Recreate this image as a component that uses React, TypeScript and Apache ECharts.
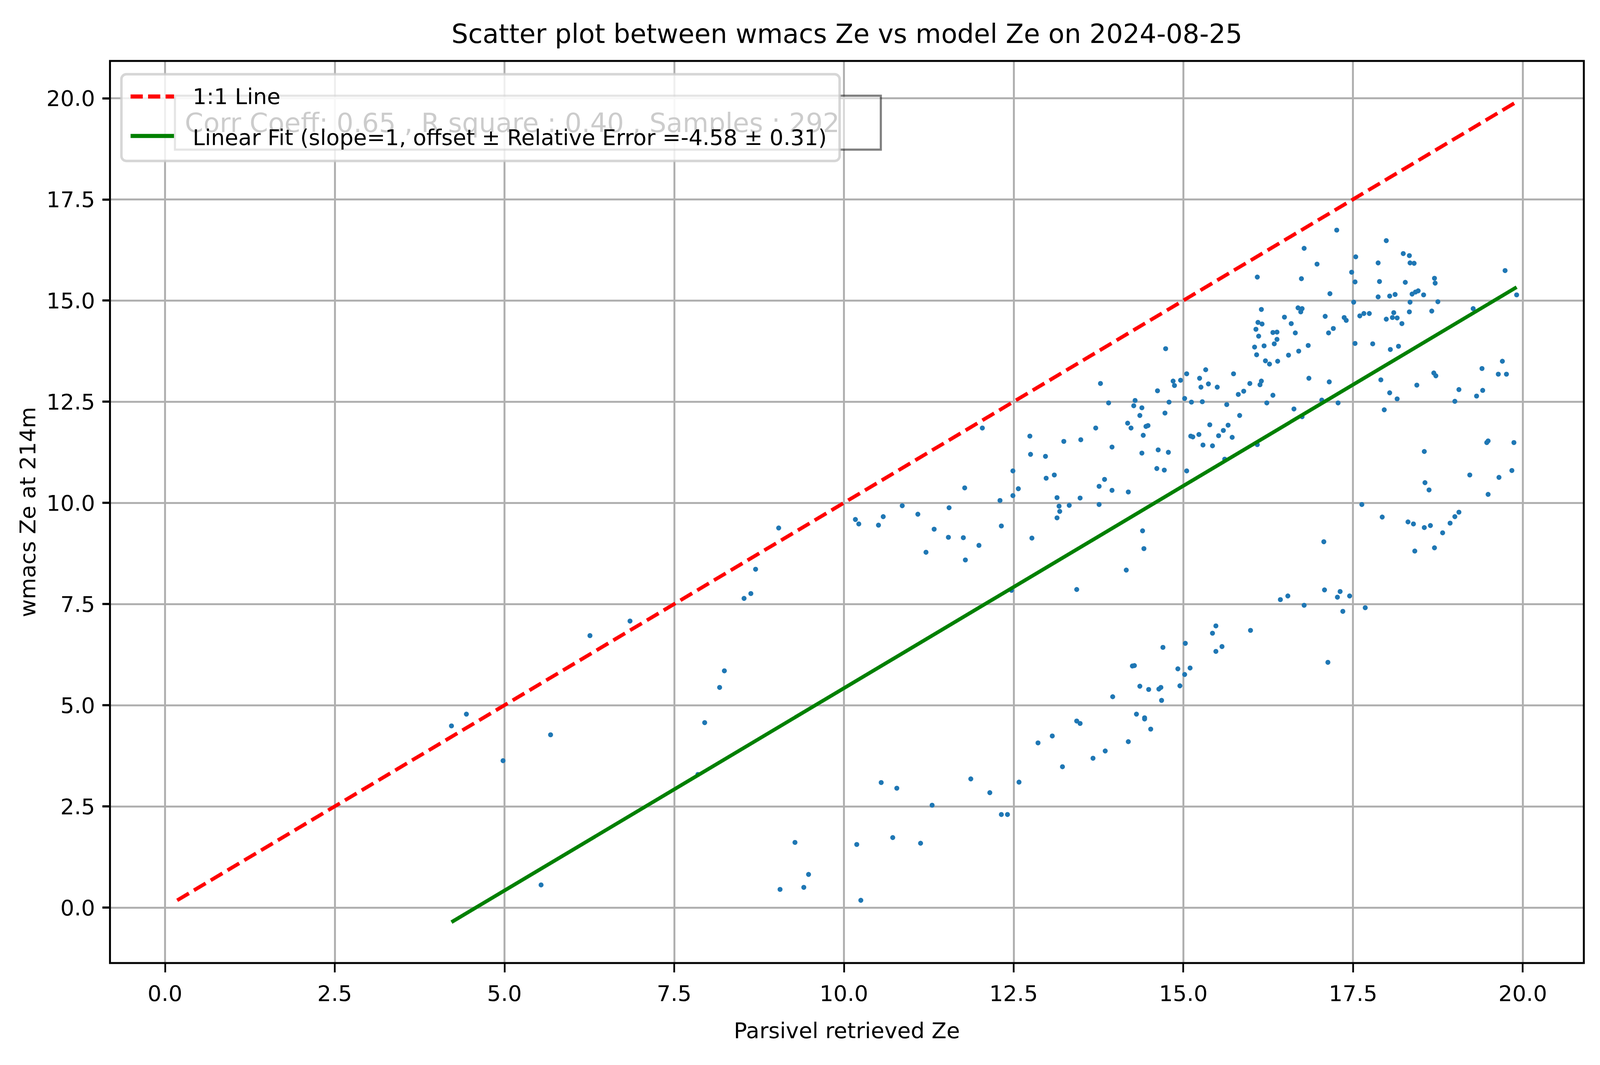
import React, { useEffect, useRef, useState } from "react";
import * as echarts from "echarts";

// Parsivel retrieved Ze (x) and wmacs Ze at 214m (y)
const parsivelZe = [
  4.22, 4.44, 4.98, 5.68, 5.54, 6.26, 6.85, 7.85, 7.95, 8.17, 8.24, 8.53, 8.63, 8.7, 9.04, 9.28, 9.06, 9.41, 9.48,
  10.17, 10.22, 10.51, 10.58, 10.86, 11.09, 11.21, 11.33, 11.54, 11.55, 11.76, 11.79, 11.99, 12.3, 12.32, 12.49, 12.57, 11.78,
  12.77, 13.14, 13.17, 13.18, 13.14, 13.32, 13.48, 13.76, 13.95, 14.19, 13.43, 14.16, 14.4, 14.42, 12.47,
  15.03, 14.7, 15.1, 14.92, 15.02, 14.95, 14.25, 14.28, 14.36, 14.49, 14.64, 14.67, 14.68, 13.96, 14.31, 14.43, 14.43, 14.52,
  13.43, 13.48, 12.86, 13.07, 14.19, 13.85, 13.67, 13.22, 12.58, 11.87, 12.15, 12.32, 12.41, 10.55, 10.78, 11.3, 10.72, 11.13,
  10.19, 10.25,
  15.43, 15.48, 15.48, 15.57, 15.99, 16.43, 16.54, 16.78, 17.07, 17.08, 17.27, 17.31, 17.45, 17.35, 17.68, 17.13, 17.63, 17.93,
  18.31, 18.39, 18.55, 18.64, 18.41, 18.7, 18.82, 18.93, 19.0, 19.06, 18.62, 19.49,
  14.74, 13.78, 15.05, 15.24, 15.26, 14.85, 14.87, 14.96, 14.62, 14.29, 13.9, 14.27, 14.39, 14.79, 15.02, 15.12, 15.28, 14.73,
  14.36, 14.18, 14.23, 13.71, 14.45, 14.48, 14.41, 12.04, 12.74, 12.75, 12.97, 13.24, 13.49, 13.95, 14.63, 14.78, 14.39, 15.11,
  15.14, 15.23, 15.29, 12.49, 12.98, 13.1, 13.84, 13.76, 14.61, 14.72, 15.05,
  17.26, 16.78, 17.54, 16.97, 16.09, 16.74, 17.48, 17.53, 17.16, 17.51, 16.15, 16.69, 16.75, 16.73, 17.09, 17.37, 17.4, 17.6,
  16.49, 16.59, 16.1, 16.16, 16.07, 16.11, 16.32, 16.38, 16.38, 16.34, 16.65, 17.14, 17.21, 17.53, 16.19, 16.05, 16.08, 16.21,
  16.27, 16.39, 16.55, 16.7, 16.84, 16.85, 17.15, 15.33, 15.37, 15.5, 15.74, 15.98, 15.89, 15.81, 16.13, 16.15, 16.32, 15.64,
  16.23, 16.63, 17.04, 17.28, 15.83, 16.75, 15.39, 15.66, 15.59, 15.52, 15.72, 15.43, 16.09, 15.61,
  17.99, 18.24, 18.33, 18.34, 18.4, 17.87, 17.89, 18.27, 19.74, 18.7, 18.71, 17.87, 18.04, 18.12, 18.37, 18.42, 18.46, 18.54,
  19.91, 18.34, 18.75, 18.33, 18.66, 19.27, 17.66, 17.74, 18.1, 17.99, 18.08, 18.15, 18.22, 17.79, 18.05, 18.17, 17.91, 18.04,
  18.15, 17.96, 18.44, 18.69, 18.72, 19.06, 19.0, 19.32, 19.41, 19.4, 19.64, 19.7, 19.76, 19.49, 19.47, 19.87, 18.55, 19.22,
  19.65, 19.84, 18.56,
];
const wmacsZe = [
  4.49, 4.78, 3.63, 4.27, 0.56, 6.72, 7.08, 3.29, 4.57, 5.44, 5.85, 7.64, 7.76, 8.36, 9.38, 1.61, 0.45, 0.5, 0.82,
  9.59, 9.48, 9.45, 9.66, 9.93, 9.72, 8.78, 9.35, 9.15, 9.88, 9.14, 8.59, 8.95, 10.06, 9.43, 10.18, 10.35, 10.37,
  9.13, 10.13, 9.92, 9.79, 9.63, 9.94, 10.12, 9.96, 10.31, 10.27, 7.86, 8.34, 9.31, 8.87, 7.84,
  6.53, 6.43, 5.92, 5.9, 5.76, 5.48, 5.97, 5.98, 5.47, 5.39, 5.4, 5.44, 5.12, 5.21, 4.78, 4.69, 4.66, 4.41,
  4.61, 4.55, 4.07, 4.24, 4.1, 3.87, 3.69, 3.48, 3.1, 3.18, 2.84, 2.3, 2.3, 3.09, 2.95, 2.53, 1.73, 1.59,
  1.56, 0.18,
  6.78, 6.96, 6.33, 6.45, 6.85, 7.61, 7.7, 7.47, 9.04, 7.85, 7.67, 7.81, 7.7, 7.32, 7.41, 6.06, 9.96, 9.65,
  9.53, 9.48, 9.39, 9.44, 8.81, 8.89, 9.26, 9.5, 9.66, 9.77, 10.32, 10.21,
  13.81, 12.95, 13.19, 13.08, 12.86, 13.01, 12.9, 13.03, 12.77, 12.53, 12.47, 12.4, 12.35, 12.49, 12.58, 12.49, 12.5, 12.22,
  12.16, 11.97, 11.85, 11.85, 11.89, 11.91, 11.67, 11.85, 11.65, 11.2, 11.15, 11.52, 11.56, 11.38, 11.31, 11.25, 11.23, 11.65,
  11.63, 11.69, 11.43, 10.79, 10.61, 10.69, 10.58, 10.41, 10.85, 10.81, 10.79,
  16.74, 16.29, 16.08, 15.9, 15.58, 15.54, 15.7, 15.46, 15.17, 14.96, 14.78, 14.82, 14.8, 14.72, 14.61, 14.58, 14.51, 14.62,
  14.59, 14.43, 14.46, 14.42, 14.29, 14.12, 14.21, 14.22, 14.04, 13.93, 14.2, 14.2, 14.31, 13.94, 13.88, 13.85, 13.66, 13.51,
  13.43, 13.5, 13.65, 13.75, 13.89, 13.08, 12.99, 13.29, 12.94, 12.86, 13.19, 12.95, 12.76, 12.68, 12.92, 13.01, 12.66, 12.43,
  12.47, 12.32, 12.54, 12.47, 12.16, 12.13, 11.93, 11.92, 11.79, 11.66, 11.62, 11.41, 11.44, 11.08,
  16.48, 16.16, 16.11, 15.93, 15.92, 15.93, 15.47, 15.45, 15.74, 15.55, 15.43, 15.09, 15.11, 15.15, 15.16, 15.21, 15.24, 15.14,
  15.14, 14.96, 14.97, 14.72, 14.74, 14.8, 14.68, 14.68, 14.7, 14.54, 14.58, 14.57, 14.43, 13.93, 13.79, 13.87, 13.04, 12.72,
  12.57, 12.3, 12.91, 13.21, 13.14, 12.8, 12.51, 12.64, 12.78, 13.32, 13.18, 13.5, 13.18, 11.53, 11.49, 11.49, 11.27, 10.69,
  10.63, 10.8, 10.5,
];
const fitOffset = -4.58;
const tickValues = [0, 2.5, 5, 7.5, 10, 12.5, 15, 17.5, 20];

const titleText = "Scatter plot between wmacs Ze vs model Ze on 2024-08-25";
const xLabelText = "Parsivel retrieved Ze";
const yLabelText = "wmacs Ze at 214m";
const statsText = "Corr Coeff: 0.65 , R square : 0.40 , Samples : 292";
const oneToOneName = "1:1 Line";
const fitName = "Linear Fit (slope=1, offset ± Relative Error =-4.58 ± 0.31)";

const FONT = "DejaVu Sans";
const REF_W = 5048;
const REF_H = 2726;

export default function App() {
  const ref = useRef<HTMLDivElement>(null);
  const [size] = useState(() => {
    const w = window.innerWidth || REF_W;
    const h = window.innerHeight || REF_H;
    return { sx: w / REF_W, sy: h / REF_H, w, h };
  });
  useEffect(() => {
    if (!ref.current) return;
    const { sx, sy } = size;
    const px = (v: number) => v * sx;
    const py = (v: number) => v * sy;
    const f = (v: number) => v * sx; // font sizes follow the horizontal scale
    const lw = (v: number) => v * (sx + sy) / 2;
    const G = { left: 347, top: 156, right: 4997, bottom: 2465 };
    const chart = echarts.init(ref.current, undefined, { renderer: "svg", width: size.w, height: size.h });
    const points = parsivelZe.map((x, i) => [x, wmacsZe[i]]);
    const lo = Math.min(...parsivelZe, ...wmacsZe);
    const hi = Math.max(...parsivelZe, ...wmacsZe);
    const xMin = Math.min(...parsivelZe);
    const xMax = Math.max(...parsivelZe);
    const oneLine = [[lo, lo], [hi, hi]];
    const fitLine = [[xMin, xMin + fitOffset], [xMax, xMax + fitOffset]];
    const cx = (G.left + G.right) / 2;
    const cy = (G.top + G.bottom) / 2;
    const labelBase = {
      customValues: tickValues,
      formatter: (v: number) => v.toFixed(1),
      fontFamily: FONT,
      fontSize: f(69),
      color: "#000",
    };
    const splitLine = { show: true, lineStyle: { color: "#b0b0b0", width: lw(5.5) } };
    const txt = (text: string, x: number, y: number, fs: number, align: string, extra: any = {}) => ({
      type: "text",
      x: px(x),
      y: py(y),
      ...extra,
      style: { text, fontFamily: FONT, fontSize: f(fs), fill: "#000", align, verticalAlign: "middle" },
    });
    chart.setOption({
      animation: false,
      backgroundColor: "#fff",
      grid: {
        left: px(G.left),
        top: py(G.top),
        width: px(G.right - G.left),
        height: py(G.bottom - G.top),
        show: true,
        borderColor: "#000",
        borderWidth: lw(5.5),
        backgroundColor: "transparent",
        z: 3,
      },
      xAxis: {
        type: "value",
        min: -0.81,
        max: 20.9,
        axisLine: { show: false, onZero: false },
        axisTick: { show: true, length: py(24), inside: false, customValues: tickValues, lineStyle: { color: "#000", width: px(5.5) } },
        splitLine,
        axisLabel: { ...labelBase, margin: py(77), verticalAlign: "middle" },
      },
      yAxis: {
        type: "value",
        min: -1.37,
        max: 20.92,
        axisLine: { show: false, onZero: false },
        axisTick: { show: true, length: px(24), inside: false, customValues: tickValues, lineStyle: { color: "#000", width: py(5.5) } },
        splitLine,
        axisLabel: { ...labelBase, margin: px(47), align: "right", verticalAlign: "middle" },
      },
      series: [
        {
          type: "scatter",
          data: points,
          symbolSize: lw(14),
          itemStyle: { color: "#1f77b4", opacity: 1 },
          z: 2,
        },
        {
          type: "line",
          name: oneToOneName,
          data: oneLine,
          showSymbol: false,
          symbol: "none",
          lineStyle: { color: "#ff0000", width: lw(10.4), type: [lw(38.5), lw(16.7)], cap: "butt" },
          z: 4,
        },
        {
          type: "line",
          name: fitName,
          data: fitLine,
          showSymbol: false,
          symbol: "none",
          lineStyle: { color: "#008000", width: lw(10.4), type: "solid" },
          z: 4,
        },
      ],
      graphic: [
        txt(titleText, cx, 86, 83, "center"),
        txt(xLabelText, cx, 2637, 69, "center"),
        txt(yLabelText, 87, cy, 69, "center", { rotation: Math.PI / 2 }),
        {
          type: "rect",
          z: 100,
          shape: { x: px(552), y: py(245), width: px(2227), height: py(138) },
          style: { fill: "rgba(255,255,255,0.5)", stroke: "rgba(0,0,0,0.5)", lineWidth: lw(6) },
        },
        txt(statsText, 583, 314, 84, "left", { z: 101 }),
        {
          type: "rect",
          z: 110,
          shape: { x: px(383), y: py(190), width: px(2266), height: py(222), r: lw(14) },
          style: { fill: "rgba(255,255,255,0.8)", stroke: "rgba(204,204,204,0.8)", lineWidth: lw(7) },
        },
        {
          type: "line",
          z: 111,
          shape: { x1: px(412), y1: py(247), x2: px(549), y2: py(247) },
          style: { stroke: "#ff0000", lineWidth: py(10.4), lineDash: [px(38.5), px(16.7)], lineCap: "butt" },
        },
        txt(oneToOneName, 608, 246, 69, "left", { z: 111 }),
        {
          type: "line",
          z: 111,
          shape: { x1: px(412), y1: py(348), x2: px(549), y2: py(348) },
          style: { stroke: "#008000", lineWidth: py(10.4) },
        },
        txt(fitName, 608, 351, 69, "left", { z: 111 }),
      ],
    });
    return () => chart.dispose();
  }, [size]);
  return <div ref={ref} style={{ position: "absolute", left: 0, top: 0, width: size.w, height: size.h }} />;
}
